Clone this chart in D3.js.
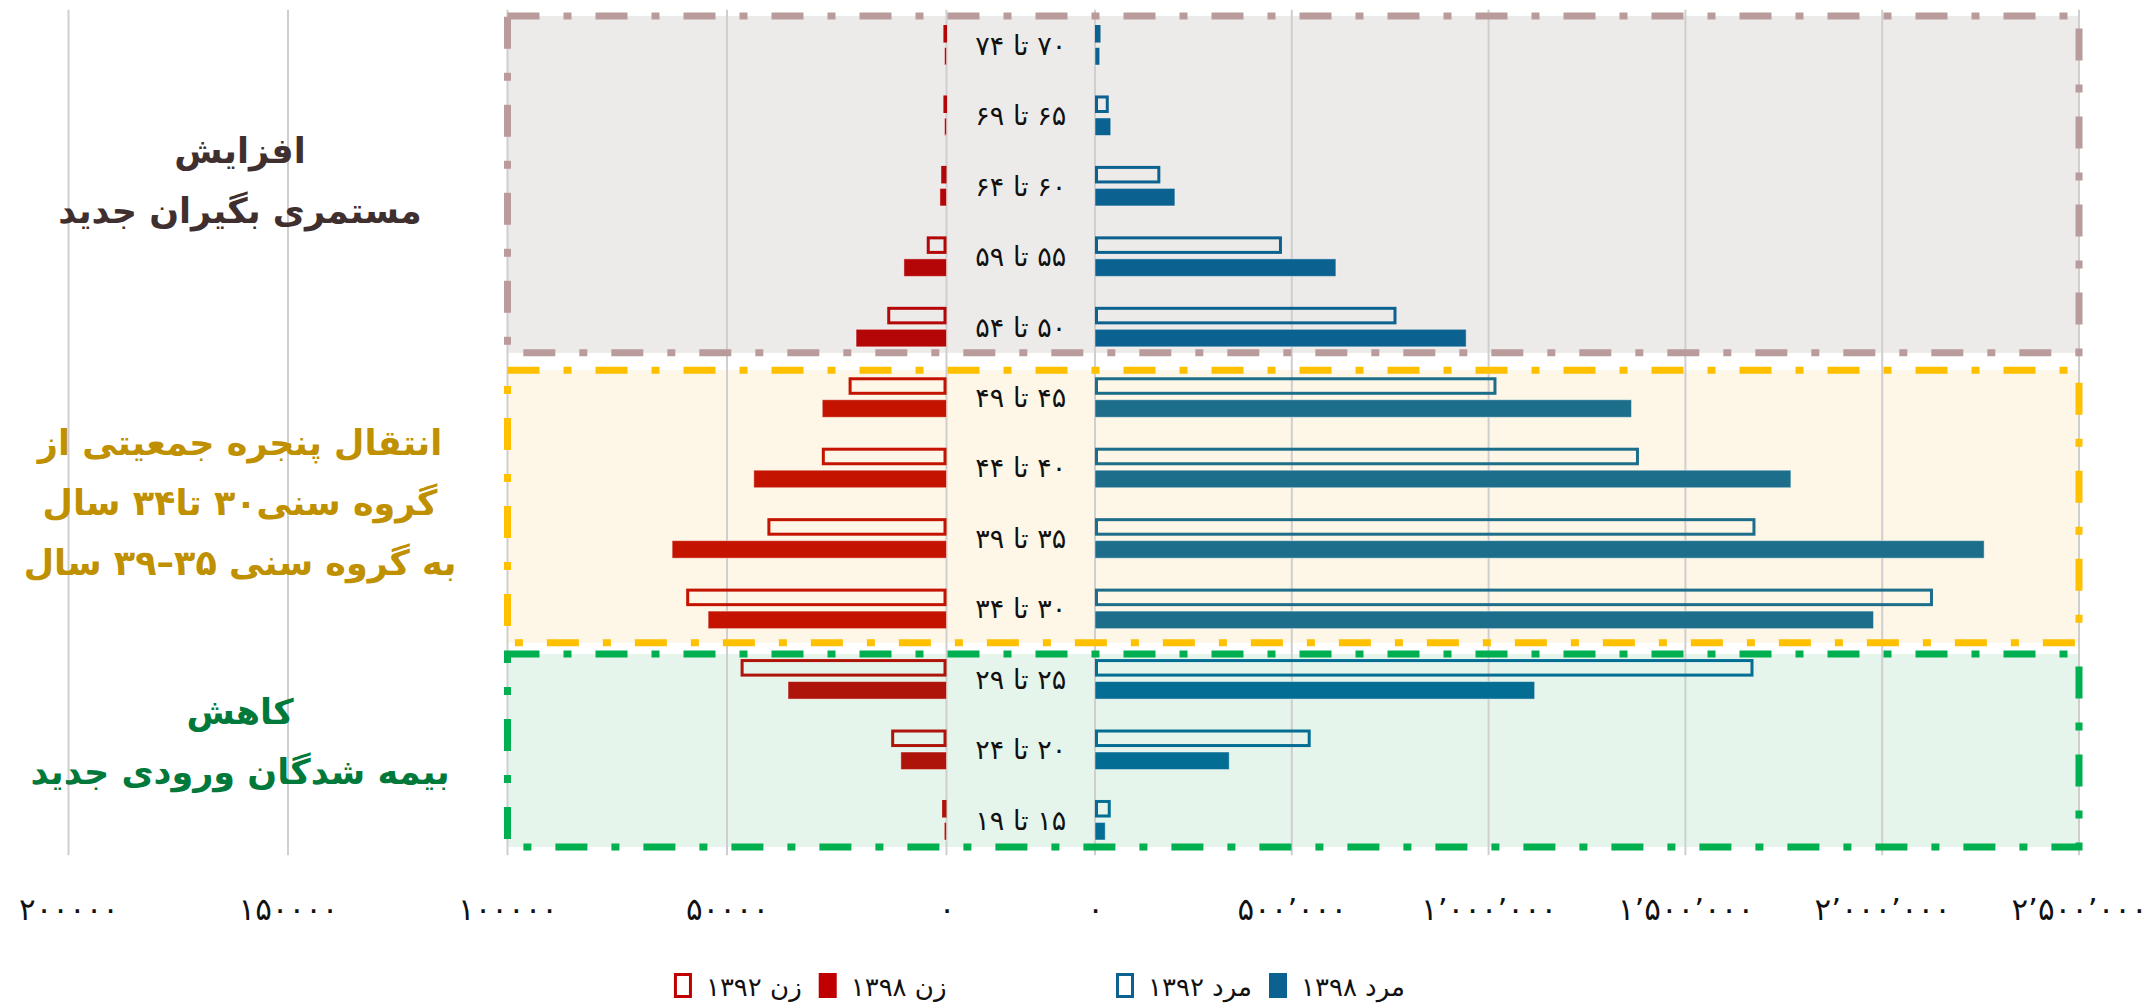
<!DOCTYPE html>
<html><head><meta charset="utf-8">
<script src="https://cdn.jsdelivr.net/npm/d3@7"></script>
<style>
html,body{margin:0;padding:0;background:#fff;}
svg{display:block;font-family:"DejaVu Sans",sans-serif;}
</style></head><body>
<svg id="chart" width="2150" height="1008"></svg>
<script>
// ---------- data ----------
const categories = ["۷۰ تا ۷۴","۶۵ تا ۶۹","۶۰ تا ۶۴","۵۵ تا ۵۹","۵۰ تا ۵۴","۴۵ تا ۴۹","۴۰ تا ۴۴","۳۵ تا ۳۹","۳۰ تا ۳۴","۲۵ تا ۲۹","۲۰ تا ۲۴","۱۵ تا ۱۹"];
const women1392 = [700, 700, 1200, 4500, 13500, 22300, 28400, 40800, 59300, 46900, 12600, 1000];
const women1398 = [450, 450, 1500, 9700, 20600, 28300, 43900, 62500, 54300, 36100, 10400, 500];
const men1392 = [14000, 35000, 166000, 475000, 766000, 1020000, 1382000, 1678000, 2129000, 1673000, 548000, 40000];
const men1398 = [12000, 40000, 203000, 612000, 943000, 1363000, 1768000, 2259000, 1978000, 1117000, 341000, 26000];
const leftTickValues = [0, 50000, 100000, 150000, 200000];
const leftTickLabels = ["۰","۵۰۰۰۰","۱۰۰۰۰۰","۱۵۰۰۰۰","۲۰۰۰۰۰"];
const rightTickValues = [0, 500000, 1000000, 1500000, 2000000, 2500000];
const rightTickLabels = ["۰","۵۰۰٬۰۰۰","۱٬۰۰۰٬۰۰۰","۱٬۵۰۰٬۰۰۰","۲٬۰۰۰٬۰۰۰","۲٬۵۰۰٬۰۰۰"];
const groupFirst = [0, 5, 9];
const groupLast = [4, 8, 11];
const groupLines = [
  ["افزایش","مستمری بگیران جدید"],
  ["انتقال پنجره جمعیتی از","گروه سنی۳۰ تا۳۴ سال","به گروه سنی ۳۵–۳۹ سال"],
  ["کاهش","بیمه شدگان ورودی جدید"]
];
const seriesYears = ["1392","1398"];
const legendWomen = ["زن ۱۳۹۲","زن ۱۳۹۸"];
const legendMen = ["مرد ۱۳۹۲","مرد ۱۳۹۸"];

// ---------- styles ----------
const groupStyle = [
  {fill:"#EDEBE9", stroke:"#BA9B9B", text:"#3F2F2F", women:"#B40606", men:"#0B6290", padTop:9, padBottom:6, textDy:0},
  {fill:"#FEF6E6", stroke:"#FFC000", text:"#BF9000", women:"#C41400", men:"#1C6E8A", padTop:7, padBottom:14, textDy:0},
  {fill:"#E5F5EC", stroke:"#00B050", text:"#00793A", women:"#AE1409", men:"#046D93", padTop:5, padBottom:7, textDy:-6}
];
const legendWomenColor = "#C00000";
const legendMenColor = "#0B6290";

const svg = d3.select("#chart");

// ---------- scales ----------
const y0 = d3.scaleBand().domain(categories).range([9.8, 855.2]).paddingInner(0.432).paddingOuter(0.216);
const y1 = d3.scaleBand().domain(seriesYears).range([0, y0.bandwidth()]).paddingInner(0.22);
const xL = d3.scaleLinear().domain([0, 200000]).range([946.5, 68.5]);
const xR = d3.scaleLinear().domain([0, 2500000]).range([1095, 2079]);

const groupOf = i => groupFirst.findIndex((f, g) => i >= f && i <= groupLast[g]);
const rows = categories.map((c, i) => ({cat:c, g:groupOf(i), w92:women1392[i], w98:women1398[i], m92:men1392[i], m98:men1398[i]}));

// ---------- region fills ----------
const regions = groupFirst.map((f, g) => {
  const st = groupStyle[g];
  const top = y0(categories[f]) - st.padTop;
  const bottom = y0(categories[groupLast[g]]) + y0.bandwidth() + st.padBottom;
  return {g, top, bottom, st};
});
const rx0 = xL(100000), rx1 = xR(2500000);
svg.append("g").selectAll("rect").data(regions).join("rect")
  .attr("x", rx0).attr("y", d => d.top)
  .attr("width", rx1 - rx0).attr("height", d => d.bottom - d.top)
  .attr("fill", d => d.st.fill);

// ---------- gridlines ----------
const [gy0, gy1] = y0.range();
const grid = svg.append("g").attr("stroke", "#cfcfcf").attr("stroke-width", 2);
grid.selectAll("line.l").data(leftTickValues).join("line").attr("class","l")
  .attr("x1", d => xL(d)).attr("x2", d => xL(d)).attr("y1", gy0).attr("y2", gy1);
grid.selectAll("line.r").data(rightTickValues).join("line").attr("class","r")
  .attr("x1", d => xR(d)).attr("x2", d => xR(d)).attr("y1", gy0).attr("y2", gy1);

// ---------- bars ----------
const bh = y1.bandwidth();
const sw = 3;
const bars = svg.append("g");
bars.selectAll("rect.w98").data(rows).join("rect").attr("class","w98")
  .attr("x", d => xL(d.w98)).attr("width", d => xL(0) - xL(d.w98))
  .attr("y", d => y0(d.cat) + y1("1398")).attr("height", bh)
  .attr("fill", d => groupStyle[d.g].women)
  .attr("stroke", "rgba(255,255,255,0.45)").attr("stroke-width", 1);
bars.selectAll("rect.w92").data(rows).join("rect").attr("class","w92")
  .attr("x", d => xL(d.w92) + sw/2).attr("width", d => Math.max(0.6, xL(0) - xL(d.w92) - sw))
  .attr("y", d => y0(d.cat) + y1("1392") + sw/2).attr("height", bh - sw)
  .attr("fill", "none")
  .attr("stroke", d => groupStyle[d.g].women).attr("stroke-width", sw);
bars.selectAll("rect.m98").data(rows).join("rect").attr("class","m98")
  .attr("x", xR(0)).attr("width", d => xR(d.m98) - xR(0))
  .attr("y", d => y0(d.cat) + y1("1398")).attr("height", bh)
  .attr("fill", d => groupStyle[d.g].men)
  .attr("stroke", "rgba(255,255,255,0.45)").attr("stroke-width", 1);
bars.selectAll("rect.m92").data(rows).join("rect").attr("class","m92")
  .attr("x", xR(0) + sw/2).attr("width", d => Math.max(0.6, xR(d.m92) - xR(0) - sw))
  .attr("y", d => y0(d.cat) + y1("1392") + sw/2).attr("height", bh - sw)
  .attr("fill", "none")
  .attr("stroke", d => groupStyle[d.g].men).attr("stroke-width", sw);

// ---------- region dashed borders ----------
svg.append("g").selectAll("rect").data(regions).join("rect")
  .attr("x", rx0).attr("y", d => d.top)
  .attr("width", rx1 - rx0).attr("height", d => d.bottom - d.top)
  .attr("fill", "none").attr("stroke", d => d.st.stroke)
  .attr("stroke-width", 7).attr("stroke-dasharray", "32 24 8 24");

// ---------- age labels ----------
const labelX = (xL(0) + xR(0)) / 2;
svg.append("g").selectAll("text").data(categories).join("text")
  .attr("x", labelX).attr("y", d => y0(d) + y0.bandwidth()/2).attr("dy", "0.36em")
  .attr("text-anchor", "middle").style("direction", "rtl")
  .attr("font-size", 27).attr("fill", "#111")
  .text(d => d);

// ---------- axes ----------
const axisY = 890;
const axL = d3.axisBottom(xL).tickValues(leftTickValues)
  .tickFormat(d => leftTickLabels[leftTickValues.indexOf(d)]).tickSize(0).tickPadding(8);
const axR = d3.axisBottom(xR).tickValues(rightTickValues)
  .tickFormat(d => rightTickLabels[rightTickValues.indexOf(d)]).tickSize(0).tickPadding(8);
[axL, axR].forEach(ax => {
  const g = svg.append("g").attr("transform", `translate(0,${axisY})`).call(ax);
  g.select(".domain").remove();
  g.selectAll("text").attr("font-size", 31).attr("font-family", "DejaVu Sans").attr("fill", "#111");
});

// ---------- annotations ----------
regions.forEach(r => {
  const lines = groupLines[r.g];
  const center = (r.top + r.bottom) / 2 + r.st.textDy;
  const lh = 60;
  svg.append("g").selectAll("text").data(lines).join("text")
    .attr("x", 240).attr("y", (d, i) => center - (lines.length - 1) * lh / 2 + i * lh + 9)
    .attr("text-anchor", "middle").style("direction", "rtl")
    .attr("font-size", 35).attr("font-weight", "bold").attr("fill", r.st.text)
    .text(d => d);
});

// ---------- legend ----------
const legY = 998, symW = 18, symH = 25, gapST = 14, gapItem = 17, legFont = 26;
function legendItem(g, x, label, filled, color) {
  g.append("rect").attr("x", filled ? x : x + 1.5).attr("y", filled ? legY - symH : legY - symH + 1.5)
    .attr("width", filled ? symW : symW - 3).attr("height", filled ? symH : symH - 3)
    .attr("fill", filled ? color : "#fff").attr("stroke", filled ? "none" : color).attr("stroke-width", 3);
  const t = g.append("text").attr("y", legY - 2).attr("font-size", legFont).attr("fill", "#111")
    .attr("text-anchor", "middle").style("direction", "rtl").text(label);
  const w = t.node().getComputedTextLength();
  t.attr("x", x + symW + gapST + w / 2);
  return x + symW + gapST + w;
}
function legendWidth(labels) {
  const tmp = svg.append("text").attr("font-size", legFont).style("direction", "rtl");
  let total = 0;
  labels.forEach((l, i) => { tmp.text(l); total += symW + gapST + tmp.node().getComputedTextLength() + (i ? gapItem : 0); });
  tmp.remove();
  return total;
}
const legW = svg.append("g");
let lx = xL(0) - legendWidth(legendWomen);
lx = legendItem(legW, lx, legendWomen[0], false, legendWomenColor) + gapItem;
legendItem(legW, lx, legendWomen[1], true, legendWomenColor);
const legM = svg.append("g");
let mx = xR(0) + 21;
mx = legendItem(legM, mx, legendMen[0], false, legendMenColor) + gapItem;
legendItem(legM, mx, legendMen[1], true, legendMenColor);
</script>
</body></html>
